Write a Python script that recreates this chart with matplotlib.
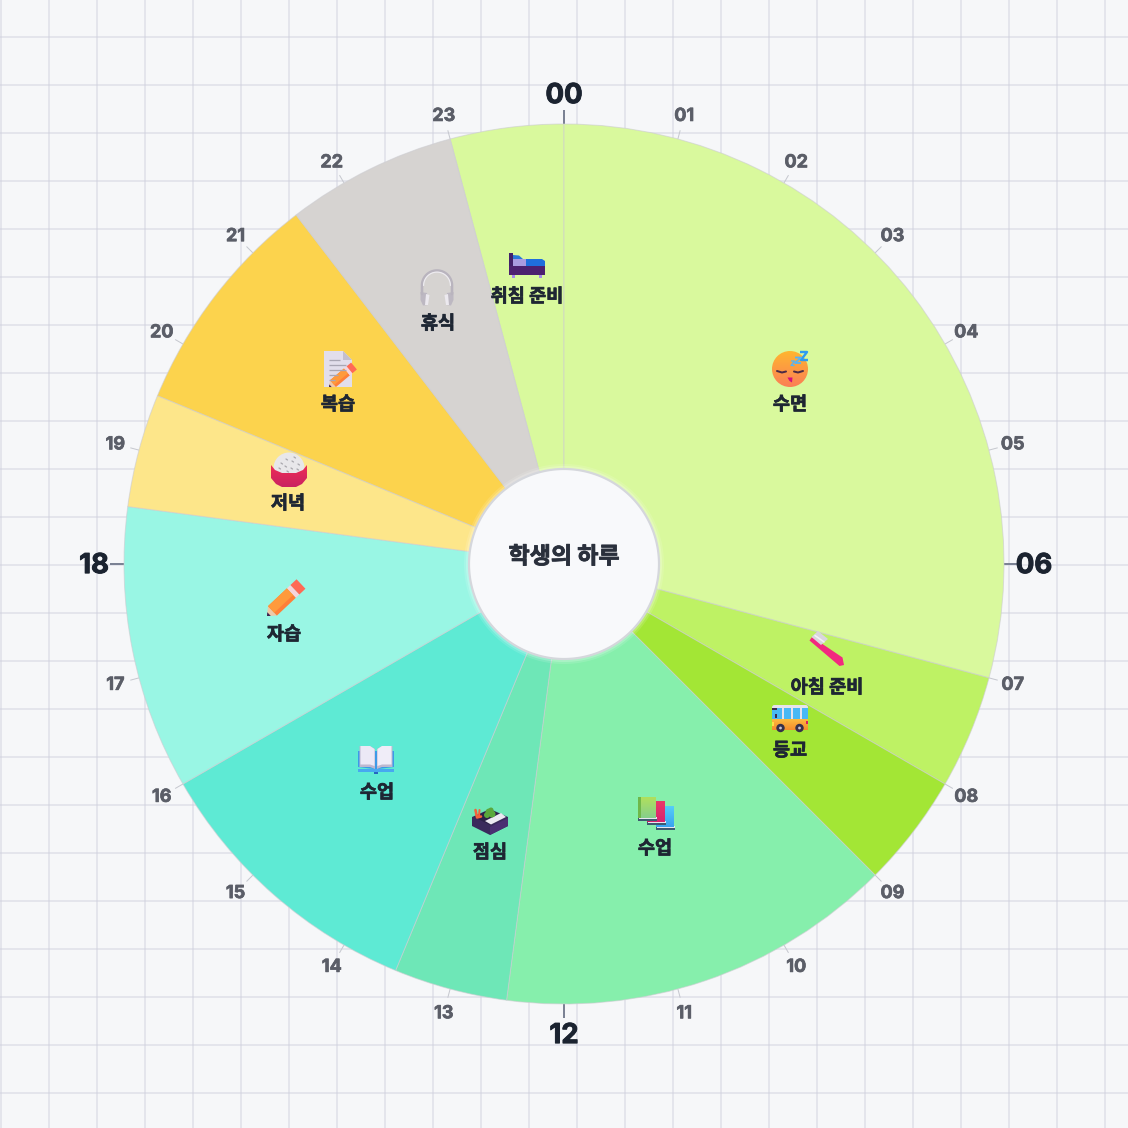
import numpy as np
import matplotlib
matplotlib.use("Agg")
import matplotlib.pyplot as plt
import matplotlib.patheffects as pe
from matplotlib.patches import Polygon, Circle, Rectangle, FancyBboxPatch
from matplotlib.colors import to_rgb

plt.rcParams['font.family'] = ['Noto Sans CJK KR', 'DejaVu Sans']

# ---------- data ----------
activities = ['취침 준비', '수면', '아침 준비', '등교', '수업', '점심', '수업', '자습', '저녁', '복습', '휴식']
start_hours = [23, 0, 7, 8, 9, 12.5, 13.5, 16, 18.5, 19.5, 21.5]
end_hours = [24, 7, 8, 9, 12.5, 13.5, 16, 18.5, 19.5, 21.5, 23]
colors = ['#d9f99d', '#d9f99d', '#bef264', '#a3e635', '#86efac', '#6ee7b7',
          '#5eead4', '#99f6e4', '#fde68a', '#fcd34d', '#d6d3d1']
hours = list(range(24))
hour_labels = [f'{h:02d}' for h in hours]
title = '학생의 하루'

# ---------- layout (pixels of the 1128 px figure) ----------
S = 1128
PX = 0.72  # points per pixel at dpi 100
CX = CY = 564
R_IN, R_OUT = 95, 440
text_xy = [(527, 294), (790, 402), (827, 685), (790, 748), (655, 846), (490, 850),
           (377, 790), (284, 632), (288, 501), (338, 402), (438, 321)]
icon_xy = [(527, 264), (790, 369), (827, 651), (790, 718), (656, 813), (490, 822),
           (376, 760), (285, 598), (289, 471), (338, 369), (437, 288)]
icon_names = ['bed', 'face', 'brush', 'bus', 'books', 'bento', 'openbook', 'pencil', 'rice', 'doc', 'phones']

fig = plt.figure(figsize=(S / 100, S / 100), dpi=100, facecolor='#f6f7f9')


def pixel_axes(z):
    a = fig.add_axes([0, 0, 1, 1], zorder=z)
    a.set_xlim(0, S)
    a.set_ylim(S, 0)
    a.axis('off')
    a.patch.set_alpha(0)
    return a


def heavy(color, w=0.5):
    return [pe.withStroke(linewidth=w, foreground=color)]


# background grid
bg = pixel_axes(0)
for x in range(1, S + 1, 48):
    bg.axvline(x, color='#cfd1de', lw=2 * PX, alpha=0.45)
for y in range(37, S + 1, 48):
    bg.axhline(y, color='#cfd1de', lw=2 * PX, alpha=0.45)

# polar clock: radius in pixels, hours mapped to angle
ax = fig.add_axes([0, 0, 1, 1], projection='polar', zorder=1)
ax.set_theta_zero_location('N')
ax.set_theta_direction(-1)
ax.set_ylim(0, S / 2)
ax.axis('off')
ax.patch.set_alpha(0)


def h2t(h):
    return np.asarray(h) / 24 * 2 * np.pi


for s, e, c in zip(start_hours, end_hours, colors):
    ax.bar(h2t((s + e) / 2), R_OUT - R_IN, width=h2t(e - s), bottom=R_IN, color=c,
           edgecolor=(0.8, 0.8, 0.82, 0.6), linewidth=1 * PX, zorder=2)

# soft glow + hole
th = np.linspace(0, 2 * np.pi, 361)
for extra, al in ((5, 0.12), (3, 0.2)):
    ax.fill(th, np.full_like(th, R_IN + extra), color='#ffffff', alpha=al, lw=0, zorder=3)
ax.fill(th, np.full_like(th, R_IN), facecolor='#f8f9fb', edgecolor='#d5d7dc', lw=2.2 * PX, zorder=4)

for h, lab in zip(hours, hour_labels):
    t = h2t(h)
    if h % 6 == 0:
        ax.plot([t, t], [R_OUT, R_OUT + 14], color='#7b8294', lw=2 * PX, zorder=1, solid_capstyle='butt')
        ax.annotate(lab, (t, 470), xytext=(0, -1.5), textcoords='offset points', ha='center', va='center',
                    fontsize=27.5 * PX, fontweight='bold', color='#1b2330', family=['Inter', 'DejaVu Sans'],
                    zorder=5, path_effects=heavy('#1b2330', 0.7))
    else:
        ax.plot([t, t], [R_OUT, R_OUT + 9], color='#c6c8cf', lw=1 * PX, zorder=1, solid_capstyle='butt')
        ax.annotate(lab, (t, 464.5), xytext=(0, -0.8), textcoords='offset points', ha='center', va='center',
                    fontsize=18 * PX, fontweight='bold', color='#5b5e68', family=['Inter', 'DejaVu Sans'],
                    zorder=5, path_effects=heavy('#5b5e68', 0.5))

# overlay: icons & labels
top = pixel_axes(2)


def P(pts, c, ox, oy, **k):
    p = Polygon([(ox + a, oy + b) for a, b in pts], closed=True, fc=c, ec='none', **k)
    top.add_patch(p)
    return p


def R(x, y, w, h, c, ox, oy, **k):
    p = Rectangle((ox + x, oy + y), w, h, fc=c, ec='none', **k)
    top.add_patch(p)
    return p


def C(x, y, r, c, ox, oy):
    p = Circle((ox + x, oy + y), r, fc=c, ec='none')
    top.add_patch(p)
    return p


def L(pts, c, w, ox, oy, cap='round'):
    xs = [ox + a for a, b in pts]
    ys = [oy + b for a, b in pts]
    top.plot(xs, ys, color=c, lw=w * PX, solid_capstyle=cap, solid_joinstyle='round')


def G(patch, c1, c2, bounds):
    """Fill a patch with a top-to-bottom gradient."""
    x0, x1, y0, y1 = bounds
    a, b = np.array(to_rgb(c1)), np.array(to_rgb(c2))
    g = np.linspace(0, 1, 64)[:, None, None] * (b - a) + a
    im = top.imshow(g, extent=(x0, x1, y1, y0), aspect='auto', origin='upper', zorder=patch.get_zorder(),
                    interpolation='bilinear')
    im.set_clip_path(patch)
    patch.set_alpha(0)


def icon_face(x, y):
    p = C(0, 0, 18, '#ffb02e', x, y)
    G(p, '#ffb62f', '#fb7f56', (x - 18, x + 18, y - 18, y + 18))
    L([(-13, 2), (-8, 3.5), (-4, 2.5)], '#4d2a45', 2, x, y)
    L([(4, 2.5), (8, 3.5), (13, 2)], '#4d2a45', 2, x, y)
    P([(-2.5, 8.5), (2.5, 8.5), (2, 13.5), (-0.5, 12)], '#d1107a', x, y)
    L([(10, -17), (17, -17), (11, -9), (18, -9)], '#2f9bf0', 2.4, x, y, cap='butt')
    L([(5, -11.5), (11, -11.5), (5, -6), (11, -6)], '#55b4f5', 1.8, x, y, cap='butt')
    L([(1, -8), (4.5, -8), (1, -3.5), (4.5, -3.5)], '#55b4f5', 1.3, x, y, cap='butt')


def icon_bed(x, y):
    R(-18, -11, 4, 22, '#42216a', x, y)
    R(-18, 2, 36, 9, '#4c2170', x, y)
    R(-15, 11, 3, 3, '#a78bea', x, y)
    R(12, 11, 3, 3, '#a78bea', x, y)
    R(-14, -5, 14, 7, '#a99be0', x, y)
    P([(-14, -9), (-8, -8.5), (-4, -5), (-14, -5)], '#2a78d8', x, y)
    P([(-1, 2), (-1, -5), (15, -5), (18, -3), (18, 2)], '#1f6fdc', x, y)


def icon_phones(x, y):
    arc = np.linspace(np.pi, 2 * np.pi, 50)
    band = [(15 * np.cos(a), 15 * np.sin(a) - 2.5) for a in arc]
    L([(-15, 6)] + band + [(15, 6)], '#b9b4be', 2.6, x, y)
    inner = [(13.4 * np.cos(a), 13.4 * np.sin(a) - 2.5) for a in arc]
    L(inner, '#eeecf1', 1.2, x, y)
    for sgn in (-1, 1):
        P([(sgn * 16.5, 4), (sgn * 10, 5), (sgn * 9, 17), (sgn * 14, 17.5), (sgn * 16.5, 12)], '#bdb8c2', x, y)
        P([(sgn * 11, 6), (sgn * 7.5, 7), (sgn * 9, 17), (sgn * 12, 17)], '#ece9ef', x, y)


def icon_brush(x, y):
    P([(-17.5, -10.5), (-15, -14), (15.5, 6.5), (17, 14), (12.5, 15)], '#f2297f', x, y)
    P([(-15.5, -14), (-9, -20), (1, -12), (-6, -6)], '#d9d5de', x, y)
    L([(-12, -15.5), (-3, -9)], '#f4f2f6', 1.6, x, y)


def icon_bus(x, y):
    top.add_patch(FancyBboxPatch((x - 18, y - 13), 36, 24, boxstyle='round,pad=0,rounding_size=2.5',
                                 fc='#e6e3ec', ec='none'))
    p2 = Rectangle((x - 18, y + 1), 36, 11, fc='#f9a63c', ec='none')
    top.add_patch(p2)
    G(p2, '#fdbb3f', '#f58b2d', (x - 18, x + 18, y + 1, y + 12))
    for a in (-15.5, -6, 3, 12):
        R(a, -10.5, 7 if a < 12 else 6, 11.5, '#48b8f5', x, y)
    R(-18, -10.5, 5, 2.5, '#3a2a50', x, y)
    R(-18, -8, 5, 9, '#48b8f5', x, y)
    R(-15, -4, 2, 4, '#3a2a50', x, y)
    R(16, 3, 2, 3, '#d81b60', x, y)
    R(-18, 4, 2, 4, '#fde047', x, y)
    for a in (-9.5, 9.5):
        C(a, 10, 4.2, '#36304a', x, y)
        C(a, 10, 1.4, '#c8c4d4', x, y)


def icon_books(x, y):
    def book(a, b, c1, c2, spine):
        R(a, b + 21, 18.5, 2.5, '#3d5a70', x, y)
        R(a + 1, b + 20, 17.5, 1.8, '#e8e6f0', x, y)
        p = R(a, b, 18, 21, c1, x, y)
        G(p, c1, c2, (x + a, x + a + 18, y + b, y + b + 21))
        R(a, b, 2.5, 21, spine, x, y)
    book(0, -7, '#55cdf8', '#3aa3f0', '#3aa3f0')
    book(-9, -12, '#ea3a68', '#d92370', '#c81e5c')
    book(-18, -16, '#b0e05c', '#86cf8c', '#6fb84a')


def icon_bento(x, y):
    P([(-18, -5), (0, -13), (18, -5), (18, 4), (0, 13), (-18, 4)], '#3a2a5c', x, y)
    P([(0, 5), (18, -4), (18, 4), (0, 13)], '#4a2f72', x, y)
    P([(-16, -5), (0, -12.5), (16, -5), (0, 3)], '#2c2148', x, y)
    P([(-5, -1), (11, -9), (16, -5), (1, 2.5)], '#ece9f2', x, y)
    for a, b, r in ((-1, -10, 3.5), (2, -8, 3.5), (-3, -7, 3), (1, -12, 2.5)):
        C(a, b, r, '#5aa83c', x, y)
    L([(-14.5, -12), (-13, -4.5), (-9, -5.5)], '#f4623a', 2.6, x, y)
    L([(-10.5, -12), (-11, -6)], '#f4623a', 2, x, y)


def icon_openbook(x, y):
    P([(-18, 7), (-18, -9), (18, -9), (18, 7), (2, 9), (-2, 9)], '#3d9ae8', x, y)
    R(-18, 9, 36, 3, '#47a8f0', x, y)
    R(-2, 12, 4, 2, '#2566c0', x, y)
    P([(-16.5, -14), (-6, -14), (-1, -11), (-1, 9), (-6, 7), (-16.5, 7)], '#bdb8d0', x, y)
    P([(1, -11), (6, -14), (16.5, -14), (16.5, 7), (6, 7), (1, 9)], '#bdb8d0', x, y)
    P([(-15.5, -14), (-6, -14), (-1.5, -11), (-1.5, 6), (-6, 4.5), (-15.5, 4.5)], '#ece9f6', x, y)
    P([(1.5, -11), (6, -14), (15.5, -14), (15.5, 4.5), (6, 4.5), (1.5, 6)], '#f0edf8', x, y)


def pencil(x, y, tip, end, w):
    tip = np.array(tip, float)
    end = np.array(end, float)
    length = np.linalg.norm(end - tip)
    d = (end - tip) / length
    n = np.array([-d[1], d[0]])

    def q(a, b, c, w0=-0.5, w1=0.5):
        p0, p1 = tip + d * a, tip + d * b
        P([p0 + n * w * w1, p1 + n * w * w1, p1 + n * w * w0, p0 + n * w * w0], c, x, y)
    P([tip, tip + d * length * 0.16 + n * w / 2, tip + d * length * 0.16 - n * w / 2], '#eec9a8', x, y)
    P([tip, tip + d * length * 0.06 + n * w * 0.2, tip + d * length * 0.06 - n * w * 0.2], '#3a2050', x, y)
    q(length * 0.16, length * 0.72, '#ff7f38')
    q(length * 0.16, length * 0.72, '#ff9a3c', -0.5, 0.2)
    q(length * 0.72, length * 0.82, '#f7d5dc')
    q(length * 0.82, length, '#ff6a55')


def icon_pencil(x, y):
    pencil(x, y, (-18, 18), (16, -14), 13)


def icon_rice(x, y):
    C(0, -3, 15.5, '#e8e7ea', x, y)
    for a, b in ((-8, -8), (-3, -12), (3, -10), (9, -7), (-10, -3), (-4, -5), (2, -3), (8, -2), (-2, 0), (5, -14)):
        L([(a, b), (a + 1.5, b + 1)], '#a9a8ae', 1.3, x, y)
    p = P([(-18, -6), (-14, -1), (-7, 2), (7, 2), (14, -1), (18, -6), (18, 7), (13, 13), (7, 16),
           (-7, 16), (-13, 13), (-18, 7)], '#e0254f', x, y)
    G(p, '#ee2d55', '#c92262', (x - 18, x + 18, y - 6, y + 16))


def icon_doc(x, y):
    P([(-14, -18), (5, -18), (14, -9), (14, 18), (-14, 18)], '#e2deeb', x, y)
    P([(5, -18), (14, -9), (5, -9)], '#c3bfce', x, y)
    for b, a0, a1 in ((-9, -9, 2), (-4, -9, 8), (1, -9, 8), (6, -9, 0), (11, -9, -3)):
        L([(a0, b), (a1, b)], '#a9a6b4', 1.3, x, y, cap='butt')
    pencil(x, y, (-9, 18), (16, -3), 9)


draw = dict(face=icon_face, bed=icon_bed, phones=icon_phones, brush=icon_brush, bus=icon_bus, books=icon_books,
            bento=icon_bento, openbook=icon_openbook, pencil=icon_pencil, rice=icon_rice, doc=icon_doc)

for name, (ix, iy), lab, (tx, ty) in zip(icon_names, icon_xy, activities, text_xy):
    draw[name](ix, iy)
    top.text(tx, ty + 2.5, lab, ha='center', va='center', fontsize=18.6 * PX, fontweight='bold', color='#1e2633',
             path_effects=heavy('#1e2633', 0.5))

top.text(CX, 557, title, ha='center', va='center', fontsize=23 * PX, fontweight='bold', color='#2a303c',
         path_effects=heavy('#2a303c', 0.6))
top.set_xlim(0, S)
top.set_ylim(S, 0)

fig.savefig('out.png', dpi=100, facecolor=fig.get_facecolor())
